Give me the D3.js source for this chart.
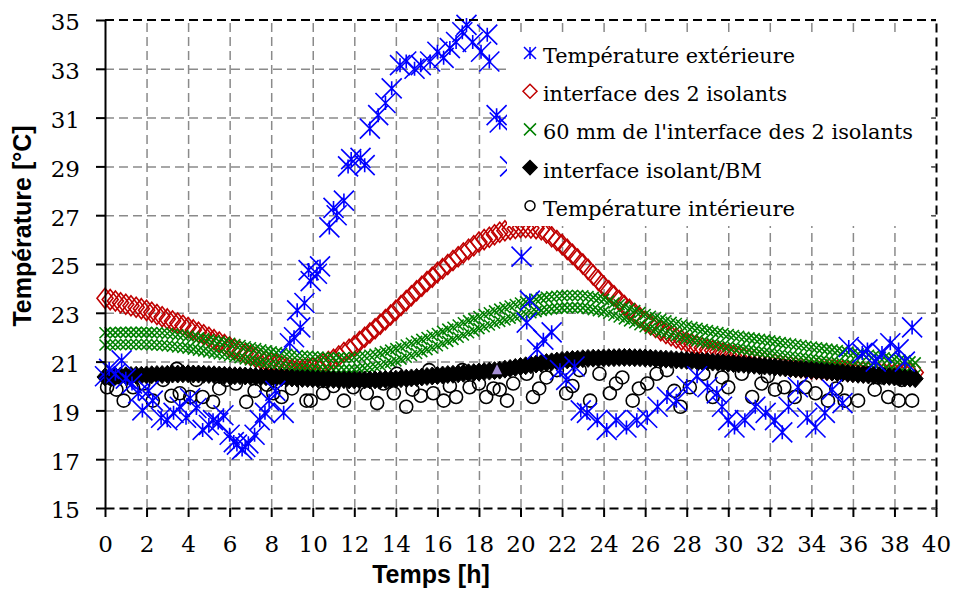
<!DOCTYPE html>
<meta charset="utf-8">

<!-- Load d3.js -->
<script src="https://d3js.org/d3.v7.min.js"></script>
<style>
  body { margin: 0; background: #fff; }
</style>

<div id="my_dataviz"></div>
<script>

// sampling times (h) of the three smooth probe series
const hours = d3.range(0, 39.01, 0.25);

// interface des 2 isolants (red diamonds)
const interfaceIsolants = [
  23.60,23.54,23.48,23.41, 23.35,23.29,23.23,23.17, 23.10,23.02,22.93,22.84, 22.75,22.66,22.58,22.49,
  22.40,22.30,22.20,22.10, 22.00,21.90,21.80,21.70, 21.60,21.51,21.42,21.33, 21.25,21.17,21.10,21.02,
  20.95,20.88,20.81,20.75, 20.70,20.68,20.68,20.70, 20.75,20.82,20.91,21.00, 21.10,21.23,21.37,21.51,
  21.65,21.82,22.00,22.17, 22.35,22.53,22.72,22.91, 23.10,23.30,23.50,23.70, 23.90,24.09,24.28,24.46,
  24.65,24.81,24.98,25.14, 25.30,25.45,25.60,25.75, 25.90,26.00,26.10,26.20, 26.30,26.36,26.42,26.46,
  26.50,26.50,26.48,26.45, 26.40,26.27,26.12,25.96, 25.80,25.60,25.40,25.20, 25.00,24.78,24.55,24.33,
  24.10,23.90,23.70,23.50, 23.30,23.14,22.97,22.81, 22.65,22.52,22.40,22.27, 22.15,22.06,21.97,21.89,
  21.80,21.72,21.65,21.57, 21.50,21.45,21.40,21.35, 21.30,21.25,21.20,21.15, 21.10,21.06,21.02,20.99,
  20.95,20.91,20.87,20.84, 20.80,20.78,20.75,20.73, 20.70,20.69,20.68,20.66, 20.65,20.64,20.63,20.61,
  20.60,20.59,20.58,20.56, 20.55,20.54,20.53,20.51, 20.50,20.51,20.52,20.53, 20.55];

// 60 mm de l'interface (green crosses) - upper and lower rows of points
const probe60Upper = [
  22.18,22.19,22.19,22.20, 22.20,22.20,22.20,22.20, 22.20,22.19,22.18,22.17, 22.15,22.13,22.10,22.08,
  22.05,22.01,21.97,21.94, 21.90,21.86,21.82,21.79, 21.75,21.70,21.66,21.61, 21.57,21.53,21.48,21.44,
  21.40,21.37,21.33,21.30, 21.27,21.25,21.23,21.22, 21.20,21.19,21.17,21.16, 21.15,21.15,21.16,21.16,
  21.17,21.20,21.23,21.26, 21.30,21.35,21.41,21.47, 21.53,21.60,21.68,21.75, 21.83,21.91,21.99,22.07,
  22.15,22.24,22.33,22.41, 22.50,22.59,22.68,22.76, 22.85,22.93,23.00,23.08, 23.15,23.21,23.28,23.34,
  23.40,23.45,23.50,23.55, 23.60,23.63,23.66,23.68, 23.70,23.71,23.71,23.71, 23.70,23.67,23.63,23.59,
  23.55,23.48,23.40,23.33, 23.25,23.17,23.09,23.01, 22.93,22.86,22.80,22.73, 22.67,22.61,22.56,22.50,
  22.45,22.40,22.36,22.31, 22.27,22.23,22.19,22.15, 22.11,22.07,22.04,22.00, 21.97,21.94,21.91,21.88,
  21.85,21.82,21.78,21.75, 21.72,21.69,21.66,21.63, 21.60,21.57,21.54,21.51, 21.48,21.45,21.41,21.38,
  21.35,21.32,21.29,21.26, 21.23,21.20,21.16,21.13, 21.10,21.06,21.03,20.99, 20.95];
const probe60Lower = [
  21.68,21.69,21.69,21.70, 21.70,21.70,21.70,21.70, 21.70,21.69,21.68,21.67, 21.65,21.63,21.60,21.58,
  21.55,21.51,21.47,21.44, 21.40,21.36,21.32,21.29, 21.25,21.20,21.16,21.11, 21.07,21.03,20.98,20.94,
  20.90,20.87,20.83,20.80, 20.77,20.75,20.73,20.72, 20.70,20.69,20.67,20.66, 20.65,20.65,20.66,20.66,
  20.67,20.70,20.73,20.76, 20.80,20.85,20.91,20.97, 21.03,21.10,21.18,21.25, 21.33,21.41,21.49,21.57,
  21.65,21.74,21.83,21.91, 22.00,22.09,22.18,22.26, 22.35,22.43,22.50,22.58, 22.65,22.71,22.78,22.84,
  22.90,22.95,23.00,23.05, 23.10,23.13,23.16,23.18, 23.20,23.21,23.21,23.21, 23.20,23.17,23.13,23.09,
  23.05,22.98,22.90,22.83, 22.75,22.67,22.59,22.51, 22.43,22.36,22.30,22.23, 22.17,22.11,22.06,22.00,
  21.95,21.90,21.86,21.81, 21.77,21.73,21.69,21.65, 21.61,21.57,21.54,21.50, 21.47,21.44,21.41,21.38,
  21.35,21.32,21.28,21.25, 21.22,21.19,21.16,21.13, 21.10,21.07,21.04,21.01, 20.98,20.95,20.91,20.88,
  20.85,20.82,20.79,20.76, 20.73,20.70,20.66,20.63, 20.60,20.56,20.53,20.49, 20.45];

// interface isolant/BM (black filled diamonds)
const interfaceBM = [
  20.37,20.38,20.40,20.41, 20.42,20.43,20.44,20.44, 20.45,20.46,20.47,20.47, 20.48,20.49,20.49,20.50,
  20.50,20.49,20.49,20.48, 20.47,20.46,20.45,20.44, 20.43,20.42,20.42,20.41, 20.40,20.39,20.38,20.38,
  20.37,20.36,20.35,20.34, 20.33,20.32,20.31,20.31, 20.30,20.29,20.28,20.28, 20.27,20.26,20.26,20.25,
  20.25,20.25,20.25,20.25, 20.25,20.26,20.27,20.27, 20.28,20.30,20.32,20.33, 20.35,20.37,20.39,20.41,
  20.43,20.45,20.47,20.48, 20.50,20.52,20.54,20.55, 20.57,20.59,20.61,20.63, 20.65,20.69,20.72,20.76,
  20.80,20.83,20.87,20.90, 20.93,20.96,20.99,21.02, 21.05,21.07,21.09,21.10, 21.12,21.13,21.14,21.14,
  21.15,21.16,21.16,21.17, 21.17,21.17,21.16,21.16, 21.15,21.14,21.12,21.11, 21.10,21.09,21.07,21.06,
  21.05,21.04,21.02,21.01, 21.00,20.98,20.97,20.95, 20.93,20.92,20.90,20.89, 20.87,20.85,20.83,20.82,
  20.80,20.78,20.76,20.74, 20.72,20.70,20.69,20.67, 20.65,20.63,20.61,20.59, 20.57,20.55,20.54,20.52,
  20.50,20.48,20.47,20.45, 20.43,20.42,20.40,20.39, 20.37,20.35,20.33,20.32, 20.30];

// Température extérieure (blue stars)
const extHours = [0.0,0.2,0.5,0.8,1.0,1.3,1.6,1.8,2.1,2.3,2.7,3.0,3.3,3.6,3.9,4.1,4.4,4.7,5.0,5.2,5.45,5.7,6.0,6.2,6.35,6.6,6.75,6.9,7.2,7.45,7.7,7.9,8.2,8.6,8.9,9.1,9.25,9.4,9.6,9.8,9.9,10.2,10.35,10.8,11.0,11.15,11.5,11.7,11.85,12.3,12.5,12.75,13.15,13.5,13.8,14.2,14.5,14.9,15.2,15.65,16.0,16.3,16.6,16.9,17.2,17.4,17.7,18.1,18.4,18.5,18.85,19.0,19.5,20.05,20.3,20.45,20.8,21.1,21.5,21.9,22.2,22.6,22.9,23.2,23.7,24.15,24.6,25.1,25.6,26.1,26.6,27.05,27.5,28.0,28.5,29.0,29.45,29.7,30.0,30.3,30.8,31.3,31.8,32.25,32.6,32.9,33.35,33.8,34.2,34.65,35.0,35.5,35.8,36.45,36.7,37.1,37.4,37.8,38.2,38.5,38.85];
const extTemp  = [20.4,20.7,20.5,21.05,20.3,20.1,19.7,19.0,19.8,19.4,18.7,18.6,18.9,19.15,18.7,19.5,19.1,18.2,18.4,18.6,18.5,18.8,18.0,17.7,17.6,17.4,17.5,17.65,18.0,18.6,18.9,19.4,19.8,18.9,21.75,22.0,23.1,22.4,23.4,24.75,24.3,24.6,24.9,26.5,27.3,27.0,27.6,29.0,29.3,29.35,29.05,30.55,31.1,31.6,32.2,33.15,33.3,33.0,33.15,33.3,33.7,33.45,33.85,34.1,34.5,34.8,34.1,33.7,34.4,33.3,31.1,30.8,29.0,25.3,22.6,23.5,21.5,21.9,22.2,20.65,20.25,20.8,19.0,18.9,18.6,18.2,18.6,18.3,18.6,18.7,19.15,19.55,19.4,20.0,20.4,19.95,19.7,19.15,18.6,18.3,18.6,19.15,18.9,18.6,18.1,19.15,19.95,18.7,18.3,18.9,19.85,19.3,21.6,21.35,21.5,21.0,21.35,21.75,21.5,21.0,22.4];

// Température intérieure (open circles)
const intHours = [0.1,0.3,0.55,0.9,1.35,1.85,2.3,2.8,3.2,3.45,3.6,4.1,4.4,4.7,5.2,5.5,5.85,6.3,6.8,7.2,7.8,8.1,8.5,9.0,9.7,9.9,10.5,11.0,11.5,11.95,12.6,13.1,13.4,13.9,14.05,14.5,14.8,15.2,15.6,15.8,16.3,16.6,16.9,17.2,17.55,18.0,18.35,18.7,19.0,19.35,19.65,20.3,20.6,20.9,21.25,21.75,22.2,22.5,22.85,23.35,23.8,24.3,24.6,24.9,25.4,25.7,26.1,26.55,27.05,27.4,27.7,28.15,28.8,29.25,29.7,30.0,30.65,31.15,31.6,31.9,32.25,32.7,33.2,33.7,34.2,34.8,35.2,35.6,36.25,36.7,37.05,37.4,37.7,38.2,38.35,38.85];
const intTemp  = [19.95,20.3,19.85,19.4,19.95,20.1,19.4,20.25,19.6,20.7,19.7,19.55,20.25,19.55,19.35,19.9,20.25,20.1,19.35,19.8,20.05,19.7,19.55,19.9,19.4,19.4,19.7,20.0,19.4,19.95,19.7,19.3,20.1,19.7,20.5,19.15,19.85,19.6,20.65,19.7,19.4,20.0,19.55,20.65,19.95,20.1,19.55,19.9,19.85,19.4,20.1,20.5,19.55,19.9,20.35,20.65,19.7,20.0,20.65,19.4,20.5,19.7,20.1,20.35,19.4,19.9,20.1,20.5,20.65,19.8,19.15,19.95,20.5,19.55,20.35,19.95,20.5,19.55,20.1,20.4,19.85,19.95,19.55,19.95,19.7,19.4,19.9,19.4,19.4,20.5,19.85,20.35,19.55,19.4,20.25,19.4];

// stray point (small purple triangle)
const strayHours = [18.87];
const strayTemp = [20.65];

const xTicks = d3.range(0, 41, 2);
const yTicks = d3.range(15, 36, 2);
const legendLabels = ["Température extérieure", "interface des 2 isolants",
  "60 mm de l'interface des 2 isolants", "interface isolant/BM", "Température intérieure"];

const margin = {top: 20, right: 19, bottom: 81, left: 105},
    width = 955 - margin.left - margin.right,
    height = 589 - margin.top - margin.bottom;

const svg = d3.select("#my_dataviz")
  .append("svg")
    .attr("width", 955)
    .attr("height", 589)
  .append("g")
    .attr("transform", `translate(${margin.left},${margin.top})`);

const x = d3.scaleLinear().domain([0, 40]).range([0, width]);
const y = d3.scaleLinear().domain([15, 35]).range([height, 0]);

const gridColor = "#8a8a8a", dash = "9,5";

// grid lines
svg.append("g")
  .call(d3.axisLeft(y).tickValues(yTicks.slice(1, -1)).tickSize(-width).tickFormat(""))
  .call(g => g.select(".domain").remove())
  .selectAll("line").attr("stroke", gridColor).attr("stroke-width", 1.5).attr("stroke-dasharray", dash);
svg.append("g")
  .attr("transform", `translate(0,${height})`)
  .call(d3.axisBottom(x).tickValues(xTicks.slice(1, -1)).tickSize(-height).tickFormat(""))
  .call(g => g.select(".domain").remove())
  .selectAll("line").attr("stroke", gridColor).attr("stroke-width", 1.5).attr("stroke-dasharray", dash);

// marker shapes
const starPath = (s, v) => `M${-s},${-s}L${s},${s}M${-s},${s}L${s},${-s}M0,${-v}L0,${v}`;
const crossPath = s => `M${-s},${-s}L${s},${s}M${-s},${s}L${s},${-s}`;
const diamondPath = (w, h) => `M0,${-h}L${w},0L0,${h}L${-w},0Z`;

const red = "#c00000", green = "#008000", blue = "#0000ff";

// interface des 2 isolants
svg.append("g").selectAll("path")
  .data(hours.map((t, i) => [t, interfaceIsolants[i]]))
  .join("path")
    .attr("transform", d => `translate(${x(d[0])},${y(d[1])})`)
    .attr("d", diamondPath(8, 10))
    .attr("fill", "none").attr("stroke", red).attr("stroke-width", 1.6);

// 60 mm
[probe60Upper, probe60Lower].forEach(row => {
  svg.append("g").selectAll("path")
    .data(hours.map((t, i) => [t, row[i]]))
    .join("path")
      .attr("transform", d => `translate(${x(d[0])},${y(d[1])})`)
      .attr("d", crossPath(5.5))
      .attr("fill", "none").attr("stroke", green).attr("stroke-width", 1.6);
});

// interface isolant/BM
svg.append("g").selectAll("path")
  .data(hours.map((t, i) => [t, interfaceBM[i]]))
  .join("path")
    .attr("transform", d => `translate(${x(d[0])},${y(d[1])})`)
    .attr("d", diamondPath(8, 9))
    .attr("fill", "#000").attr("stroke", "#000").attr("stroke-width", 1);

// Température intérieure
svg.append("g").selectAll("circle")
  .data(intHours.map((t, i) => [t, intTemp[i]]))
  .join("circle")
    .attr("cx", d => x(d[0]))
    .attr("cy", d => y(d[1]))
    .attr("r", 6.5)
    .attr("fill", "none").attr("stroke", "#000").attr("stroke-width", 1.6);

// Température extérieure
svg.append("g").selectAll("path")
  .data(extHours.map((t, i) => [t, extTemp[i]]))
  .join("path")
    .attr("transform", d => `translate(${x(d[0])},${y(d[1])})`)
    .attr("d", starPath(10, 7))
    .attr("fill", "none").attr("stroke", blue).attr("stroke-width", 1.6);

// stray point
svg.append("g").selectAll("path")
  .data(strayHours.map((t, i) => [t, strayTemp[i]]))
  .join("path")
    .attr("transform", d => `translate(${x(d[0])},${y(d[1])})`)
    .attr("d", "M0,-6L5,4L-5,4Z")
    .attr("fill", "#a58fd6");

// legend
const legend = svg.append("g").attr("transform", `translate(${507 - margin.left},${33 - margin.top})`);
legend.append("rect").attr("width", 425).attr("height", 193).attr("fill", "#fff");
const legendMarks = [
  {d: starPath(6, 6), fill: "none", stroke: blue},
  {d: diamondPath(7, 7), fill: "none", stroke: red},
  {d: crossPath(6), fill: "none", stroke: green},
  {d: diamondPath(7, 7), fill: "#000", stroke: "#000"},
  {d: null, fill: "none", stroke: "#000"}
];
const textWidths = [252, 244, 370, 219, 252];
legendLabels.forEach((label, i) => {
  const row = legend.append("g").attr("transform", `translate(0,${20 + i * 38.2})`);
  const m = legendMarks[i];
  if (m.d) {
    row.append("path").attr("transform", "translate(23,0)").attr("d", m.d)
      .attr("fill", m.fill).attr("stroke", m.stroke).attr("stroke-width", 1.5);
  } else {
    row.append("circle").attr("cx", 23).attr("cy", 0).attr("r", 5)
      .attr("fill", "none").attr("stroke", "#000").attr("stroke-width", 1.5);
  }
  row.append("text")
    .attr("x", 36).attr("y", 10)
    .attr("font-family", "DejaVu Serif").attr("font-size", 21)
    .attr("textLength", textWidths[i]).attr("lengthAdjust", "spacingAndGlyphs")
    .text(label);
});

// axes
const yAxis = svg.append("g")
  .call(d3.axisLeft(y).tickValues(yTicks).tickSize(9).tickPadding(16).tickSizeOuter(0));
yAxis.select(".domain").attr("stroke-width", 2);
yAxis.selectAll("line").attr("stroke-width", 2);
yAxis.selectAll("text").attr("font-family", "DejaVu Serif").attr("font-size", 23).attr("dy", "0.43em");

const xAxis = svg.append("g")
  .attr("transform", `translate(0,${height})`)
  .call(d3.axisBottom(x).tickValues(xTicks).tickSize(9).tickPadding(19).tickSizeOuter(0));
xAxis.select(".domain").attr("stroke-width", 2).attr("stroke-dasharray", dash);
xAxis.selectAll("line").attr("stroke-width", 2);
xAxis.selectAll("text").attr("font-family", "DejaVu Serif").attr("font-size", 23);

const rAxis = svg.append("g")
  .attr("transform", `translate(${width},0)`)
  .call(d3.axisLeft(y).tickValues(yTicks).tickSize(5).tickFormat("").tickSizeOuter(0));
rAxis.select(".domain").attr("stroke-width", 2).attr("stroke-dasharray", dash);
rAxis.selectAll("line").attr("stroke-width", 1.5).attr("stroke", "#555");

svg.append("line")
  .attr("x1", 0).attr("x2", width).attr("y1", 0).attr("y2", 0)
  .attr("stroke", "#000").attr("stroke-width", 2).attr("stroke-dasharray", dash);

// titles
svg.append("text")
  .attr("x", 431 - margin.left).attr("y", 583 - margin.top)
  .attr("text-anchor", "middle")
  .attr("font-family", "Liberation Sans, Arial").attr("font-weight", "bold").attr("font-size", 25)
  .text("Temps [h]");
svg.append("text")
  .attr("transform", `translate(${31 - margin.left},${226 - margin.top}) rotate(-90)`)
  .attr("text-anchor", "middle")
  .attr("font-family", "Liberation Sans, Arial").attr("font-weight", "bold").attr("font-size", 25)
  .text("Température [°C]");

</script>
